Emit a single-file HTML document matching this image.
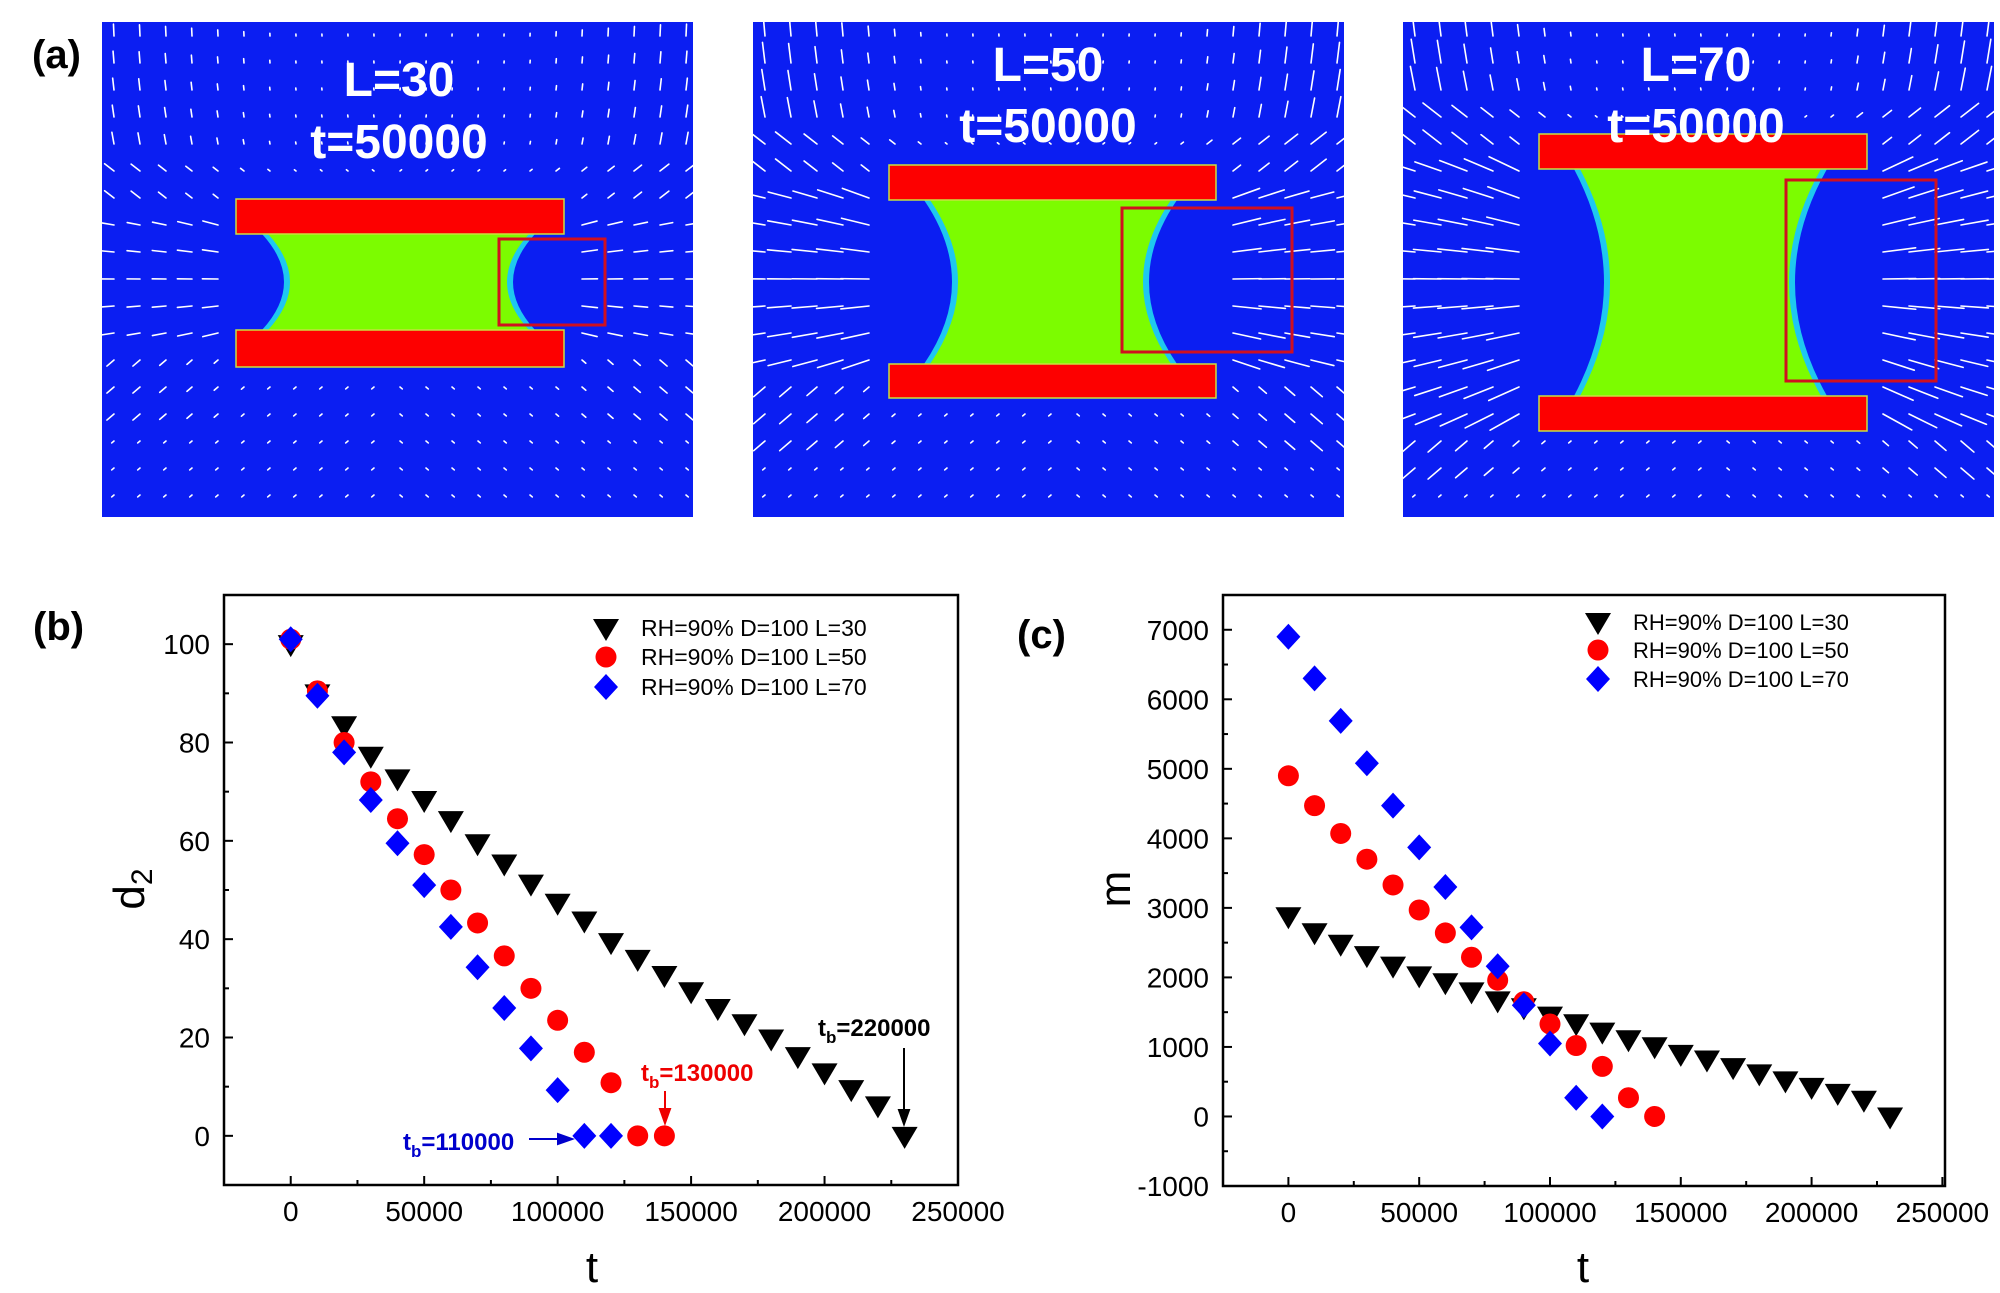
<!DOCTYPE html>
<html><head><meta charset="utf-8"><style>
html,body{margin:0;padding:0;background:#fff}
svg{display:block}
text{font-family:"Liberation Sans",sans-serif}
</style></head><body>
<svg id="fig" width="2000" height="1293" viewBox="0 0 2000 1293" xmlns="http://www.w3.org/2000/svg">
<g id="panelA"></g>
<g id="chartB"></g>
<g id="chartC"></g>
</svg>
<script>
// ---- data: panel (b) d2 vs t ----
const tL30 = [0,10000,20000,30000,40000,50000,60000,70000,80000,90000,100000,110000,120000,130000,140000,150000,160000,170000,180000,190000,200000,210000,220000,230000];
const d2L30 = [100,90,83.5,77.3,72.7,68.3,64.2,59.5,55.4,51.3,47.4,43.8,39.4,36,32.7,29.4,26,22.9,19.8,16.2,12.9,9.5,6.2,0];
const tL50 = [0,10000,20000,30000,40000,50000,60000,70000,80000,90000,100000,110000,120000,130000,140000];
const d2L50 = [101,90.5,80,72,64.5,57.2,50,43.3,36.6,30,23.5,17,10.8,0,0];
const tL70 = [0,10000,20000,30000,40000,50000,60000,70000,80000,90000,100000,110000,120000];
const d2L70 = [101,89.5,78,68.3,59.5,51,42.5,34.3,26,17.8,9.3,0,0];
// ---- data: panel (c) m vs t ----
const mL30 = [2880,2650,2485,2320,2170,2030,1930,1800,1670,1570,1450,1340,1220,1110,1010,900,820,710,620,520,425,340,240,0];
const mL50 = [4900,4470,4070,3700,3330,2970,2640,2290,1960,1650,1330,1020,720,270,0];
const mL70 = [6900,6300,5690,5080,4470,3870,3300,2720,2160,1600,1050,270,0];
// ---- ticks ----
const xTicks = [0,50000,100000,150000,200000,250000];
const xTickLabels = ["0","50000","100000","150000","200000","250000"];
const yTicksB = [0,20,40,60,80,100];
const yTicksC = [-1000,0,1000,2000,3000,4000,5000,6000,7000];
const legendLabels = ["RH=90% D=100 L=30","RH=90% D=100 L=50","RH=90% D=100 L=70"];

const NS="http://www.w3.org/2000/svg";
function mk(tag,attrs,parent){const e=document.createElementNS(NS,tag);for(const k in attrs)e.setAttribute(k,attrs[k]);if(parent)parent.appendChild(e);return e;}

// ===== Panel A =====
const A=document.getElementById('panelA');
const panels=[
 {x0:102,lbl:"L=30",lx:399,ly1:79,ly2:141,bx0:236,bx1:564,t0:199,t1:234,b0:330,b1:367,gl:268,glm:290,gr:529,grm:507,box:[499,239,106,86],s:0.45},
 {x0:753,lbl:"L=50",lx:1048,ly1:64,ly2:125,bx0:889,bx1:1216,t0:165,t1:200,b0:364,b1:398,gl:930,glm:958,gr:1171,grm:1143,box:[1122,208,170,144],s:0.85},
 {x0:1403,lbl:"L=70",lx:1696,ly1:64,ly2:125,bx0:1539,bx1:1867,t0:134,t1:169,b0:396,b1:431,gl:1580,glm:1610,gr:1821,grm:1789,box:[1786,180,150,201],s:1.0}
];
panels.forEach((p,i)=>{
 const g=mk('g',{},A);
 
 
 mk('rect',{x:p.x0,y:22,width:591,height:495,fill:'#0b1ef2'},g);
 const cy=(p.t1+p.b0)/2, cxm=(p.bx0+p.bx1)/2, H=(p.b0-p.t1)/2;
 mk('path',{d:`M${p.gl-6},${p.t1} Q${2*p.glm-p.gl-6},${cy} ${p.gl-6},${p.b0} L${p.gr+6},${p.b0} Q${2*p.grm-p.gr+6},${cy} ${p.gr+6},${p.t1} Z`,fill:'#1ec8f0'},g);
 const fl=mk('path',{d:`M${p.gl},${p.t1} Q${2*p.glm-p.gl},${cy} ${p.gl},${p.b0} L${p.gr},${p.b0} Q${2*p.grm-p.gr},${cy} ${p.gr},${p.t1} Z`,fill:'#7cfc00'},g);
 
 
 const ar=mk('g',{stroke:'#fff','stroke-width':1.6,fill:'none','stroke-linecap':'round'},g);
 
 
 for(let x=p.x0+12;x<p.x0+591;x+=26){for(let y=36;y<517;y+=27){
   if(x>p.bx0-6&&x<p.bx1+6&&y>p.t0-6&&y<p.b1+6)continue;
   const side = x<cxm ? -1 : 1;
   const ex = side<0 ? p.glm : p.grm;
   const dx=x-ex, dy=y-cy, adx=Math.abs(dx), hx=Math.abs(x-cxm);
   let vx,vy,len;
   if(Math.abs(dy)<H+20){
     vx=side; vy=dy/(adx+120)*0.9;
     len=p.s*(12+30*Math.exp(-adx/260));
   } else if(dy<0){
     const f=Math.min(1,Math.max(0,(hx-120)/150));
     vx=side*0.25*(1+(y-p.t0)/200); vy=-1;
     if(y>p.t0-40){vx=side*0.9;vy=-0.7;}
     len=2+p.s*22*f;
   } else {
     vx=side*0.7; vy=0.6;
     len=y<p.b1+60 ? 3+p.s*14*Math.min(1,Math.max(0,(hx-150)/100)) : 3;
   }
   const n=Math.hypot(vx,vy);vx/=n;vy/=n;
   mk('line',{x1:x,y1:y,x2:x+vx*len,y2:y+vy*len},ar);
 }}
 const tb=mk('rect',{x:p.bx0,y:p.t0,width:p.bx1-p.bx0,height:p.t1-p.t0,fill:'#fd0000',stroke:'#c8e040','stroke-width':1.5},g);
 
 
 const bb=mk('rect',{x:p.bx0,y:p.b0,width:p.bx1-p.bx0,height:p.b1-p.b0,fill:'#fd0000',stroke:'#c8e040','stroke-width':1.5},g);
 
 
 const bx=mk('rect',{x:p.box[0],y:p.box[1],width:p.box[2],height:p.box[3],fill:'none',stroke:'#d01020','stroke-width':3},g);
 
 
 const t1=mk('text',{x:p.lx,y:p.ly1+17,'text-anchor':'middle','font-size':48,'font-weight':'bold',fill:'#fff'},g);
 t1.textContent=p.lbl;
 
 
 const t2=mk('text',{x:p.lx,y:p.ly2+17,'text-anchor':'middle','font-size':48,'font-weight':'bold',fill:'#fff'},g);
 t2.textContent="t=50000";
 
 
});
const la=mk('text',{x:32,y:68,'font-size':40,'font-weight':'bold'},A);
la.textContent="(a)";



function marker(g,type,cx,cy){
 let e;
 if(type===0) e=mk('path',{d:`M${cx-13},${cy-9} L${cx+13},${cy-9} L${cx},${cy+13} Z`,fill:'#000'},g);
 else if(type===1) e=mk('circle',{cx:cx,cy:cy,r:10.5,fill:'#f00'},g);
 else e=mk('path',{d:`M${cx},${cy-13} L${cx+12},${cy} L${cx},${cy+13} L${cx-12},${cy} Z`,fill:'#00f'},g);
 return e;
}

function chart(G,cfg){
 const X=v=>cfg.px0+(v-cfg.xmin)/(cfg.xmax-cfg.xmin)*(cfg.px1-cfg.px0);
 const Y=v=>cfg.py1-(v-cfg.ymin)/(cfg.ymax-cfg.ymin)*(cfg.py1-cfg.py0);
 const fr=mk('rect',{x:cfg.px0,y:cfg.py0,width:cfg.px1-cfg.px0,height:cfg.py1-cfg.py0,fill:'none',stroke:'#000','stroke-width':2.5},G);
 
 
 const ax=mk('g',{stroke:'#000','stroke-width':2},G);
 
 
 for(let v=-25000;v<=250000;v+=25000){const major=v%50000===0;mk('line',{x1:X(v),x2:X(v),y1:cfg.py1,y2:cfg.py1-(major?9:5)},ax);}
 xTicks.forEach((v,i)=>{const t=mk('text',{x:X(v),y:cfg.py1+36,'text-anchor':'middle','font-size':28},G);t.textContent=xTickLabels[i];
   
   });
 cfg.yt.forEach((v,i)=>{
   mk('line',{x1:cfg.px0,x2:cfg.px0+9,y1:Y(v),y2:Y(v)},ax);
   if(i<cfg.yt.length-1||cfg.ymax>v+cfg.ystep/2)mk('line',{x1:cfg.px0,x2:cfg.px0+5,y1:Y(v+cfg.ystep/2),y2:Y(v+cfg.ystep/2)},ax);
   const t=mk('text',{x:cfg.px0-14,y:Y(v)+10,'text-anchor':'end','font-size':28},G);t.textContent=String(v);
   
   
 });
 if(cfg.ymin<cfg.yt[0])mk('line',{x1:cfg.px0,x2:cfg.px0+5,y1:Y(cfg.yt[0]-cfg.ystep/2),y2:Y(cfg.yt[0]-cfg.ystep/2)},ax);
 const series=[[tL30,cfg.s[0]],[tL50,cfg.s[1]],[tL70,cfg.s[2]]];
 series.forEach((s,k)=>{
   const sg=mk('g',{},G);
   
   
   s[0].forEach((t,i)=>{const m=marker(sg,k,X(t),Y(s[1][i]));
     
     });
 });
 const lg=mk('g',{},G);
 
 
 legendLabels.forEach((l,k)=>{
   const yy=cfg.ly[k];
   marker(lg,k,cfg.lmx,yy);
   const t=mk('text',{x:cfg.ltx,y:yy+8,'font-size':cfg.lfs},lg);t.textContent=l;
   
   
 });
 const xt=mk('text',{x:cfg.xtx,y:1282,'text-anchor':'middle','font-size':44},G);xt.textContent='t';
 
 
 const pl=mk('text',{x:cfg.plx,y:cfg.ply,'font-size':40,'font-weight':'bold'},G);pl.textContent=cfg.pl;
 
 
 return {X,Y};
}

const B=document.getElementById('chartB');
chart(B,{px0:224,px1:958,py0:595,py1:1185,xmin:-25000,xmax:250000,ymin:-10,ymax:110,yt:yTicksB,ystep:20,
 s:[d2L30,d2L50,d2L70],lmx:606,ltx:641,ly:[628,657,687],lfs:23,xtx:592,plx:33,ply:640,pl:'(b)'});
const yb=mk('text',{x:144,y:889,'text-anchor':'middle','font-size':44,transform:'rotate(-90 144 889)'},B);
yb.innerHTML='d<tspan font-size="30" dy="8">2</tspan>';


function ann(G,color,txt,x,y){const t=mk('text',{x:x,y:y,'font-size':24,'font-weight':'bold',fill:color},G);
 t.innerHTML='t<tspan font-size="17" dy="7">b</tspan><tspan dy="-7">'+txt+'</tspan>';
 
 }
ann(B,'#000','=220000',818,1036);
ann(B,'#e00','=130000',641,1081);
ann(B,'#00c','=110000',403,1150);
function arrow(G,color,x1,y1,x2,y2){const g=mk('g',{stroke:color,fill:color,'stroke-width':2},G);
 
 
 const dx=x2-x1,dy=y2-y1,L=Math.hypot(dx,dy),ux=dx/L,uy=dy/L;
 mk('line',{x1:x1,y1:y1,x2:x2-ux*12,y2:y2-uy*12},g);
 mk('path',{d:`M${x2},${y2} L${x2-ux*14-uy*5},${y2-uy*14+ux*5} L${x2-ux*14+uy*5},${y2-uy*14-ux*5} Z`},g);}
arrow(B,'#000',904,1048,904,1124);
arrow(B,'#e00',665,1091,665,1123);
arrow(B,'#00c',529,1139,572,1139);

const C=document.getElementById('chartC');
chart(C,{px0:1223,px1:1945,py0:595,py1:1186,xmin:-25000,xmax:251000,ymin:-1000,ymax:7500,yt:yTicksC,ystep:1000,
 s:[mL30,mL50,mL70],lmx:1598,ltx:1633,ly:[622,650,679],lfs:22,xtx:1583,plx:1017,ply:648,pl:'(c)'});
const yc=mk('text',{x:1130,y:889,'text-anchor':'middle','font-size':44,transform:'rotate(-90 1130 889)'},C);
yc.textContent='m';


</script>
</body></html>
